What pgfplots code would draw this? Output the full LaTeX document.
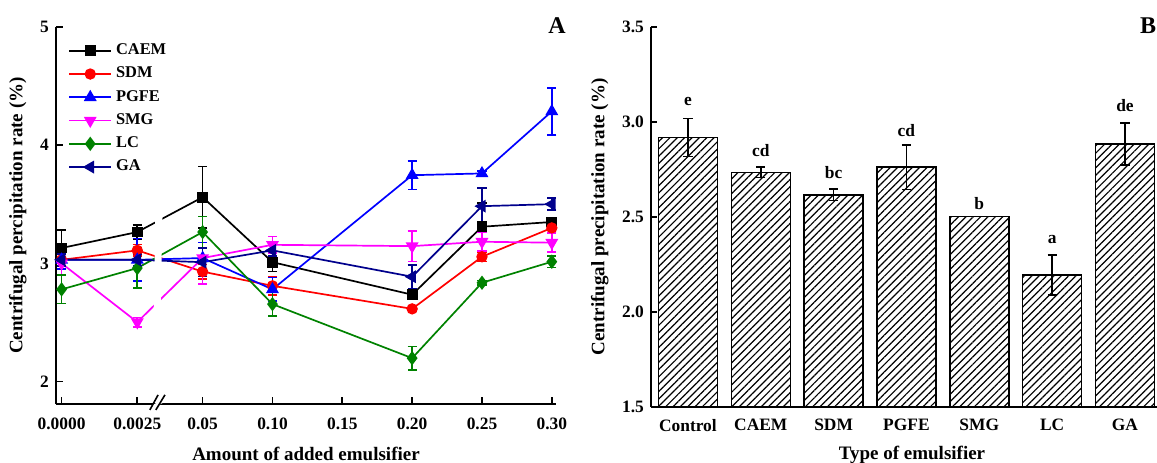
\documentclass[border=0pt]{standalone}
\usepackage{fontspec}
\setmainfont{Liberation Serif}
\usepackage{pgfplots}
\pgfplotsset{compat=1.18}
\usetikzlibrary{patterns.meta}
\definecolor{lcgreen}{RGB}{0,130,0}
\definecolor{ganavy}{RGB}{0,0,140}
\definecolor{smgmag}{RGB}{255,0,255}

\pgfplotstableread{
x y e
-0.051 3.13 0.15
0.0032 3.265 0.06
0.05 3.56 0.26
0.10 3.01 0.08
0.20 2.735 0.03
0.25 3.31 0.2
0.30 3.35 0.03
}\caem
\pgfplotstableread{
x y e
-0.051 3.03 0.08
0.0032 3.11 0.05
0.05 2.93 0.06
0.10 2.81 0.08
0.20 2.615 0.02
0.25 3.056 0.04
0.30 3.30 0.04
}\sdm
\pgfplotstableread{
x y e
-0.051 3.03 0.08
0.0032 3.03 0.18
0.05 3.045 0.13
0.10 2.78 0.1
0.20 3.746 0.12
0.25 3.761 0.02
0.30 4.286 0.2
}\pgfe
\pgfplotstableread{
x y e
-0.051 3.0 0.1
0.0032 2.503 0.04
0.05 3.045 0.22
0.10 3.157 0.07
0.20 3.146 0.13
0.25 3.183 0.08
0.30 3.175 0.08
}\smg
\pgfplotstableread{
x y e
-0.051 2.78 0.12
0.0032 2.96 0.17
0.05 3.265 0.13
0.10 2.655 0.1
0.20 2.198 0.1
0.25 2.836 0.02
0.30 3.014 0.05
}\lc
\pgfplotstableread{
x y e
-0.051 3.03 0.05
0.0032 3.03 0.05
0.05 3.01 0.12
0.10 3.11 0.05
0.20 2.887 0.1
0.25 3.484 0.155
0.30 3.501 0.05
}\ga
\pgfplotstableread{
x y e
0 2.918 0.10
1 2.735 0.027
2 2.617 0.03
3 2.762 0.117
4 2.502 0
5 2.195 0.105
6 2.884 0.11
}\bars
\pgfplotstableread{
x y l
0 3.086 e
1 2.819 cd
2 2.705 bc
3 2.923 cd
4 2.537 b
5 2.362 a
6 3.054 de
}\letters

\pgfplotsset{
  errstyle/.style={error bars/.cd, y dir=both, y explicit,
     error bar style={line width=0.8pt, solid},
     error mark options={rotate=90, line width=0.8pt, mark size=2.3pt}},
}

\begin{document}
\begin{tikzpicture}
\useasboundingbox (0,0) rectangle (578.5pt,231pt);
\begin{axis}[
  at={(28pt,29pt)}, anchor=south west,
  scale only axis, width=250pt, height=188.5pt,
  xmin=-0.055, xmax=0.303, ymin=1.81, ymax=5,
  axis x line=bottom, axis y line=left,
  axis line style={-, line width=0.85pt},
  tick align=inside, major tick length=3.5pt,
  tick style={black, line width=0.85pt},
  xtick={-0.051,0.0032,0.05,0.1,0.15,0.2,0.25,0.3},
  xticklabels={0.0000,0.0025,0.05,0.10,0.15,0.20,0.25,0.30},
  ytick={2,3,4,5}, yticklabels={2,3,4,5},
  ticklabel style={font=\bfseries\fontsize{8.7}{10}\selectfont},
  xticklabel style={yshift=-3.5pt},
  label style={font=\bfseries\fontsize{9.5}{11}\selectfont},
  xlabel={Amount of added emulsifier},
  xlabel style={yshift=-1.5pt},
  ylabel={Centrifugal percipitation rate (\%)},
  clip=false,
  legend style={at={(axis description cs:0.024,0.967)}, anchor=north west,
     draw=none, fill=none, font=\bfseries\fontsize{8.2}{9}\selectfont,
     row sep=0.7pt, cells={anchor=west}, inner sep=0pt},
  legend image code/.code={
     \draw[mark repeat=2,mark phase=2,#1] plot coordinates {(0pt,0pt) (10.5pt,0pt) (21pt,0pt)};},
  every axis plot/.append style={line width=0.85pt},
]
\addplot[black, mark=square*, mark size=2.3pt, errstyle] table[x=x,y=y,y error=e] {\caem};
\addlegendentry{CAEM}
\addplot[red, mark=*, mark size=2.4pt, errstyle] table[x=x,y=y,y error=e] {\sdm};
\addlegendentry{SDM}
\addplot[blue, mark=triangle*, mark size=2.9pt, errstyle] table[x=x,y=y,y error=e] {\pgfe};
\addlegendentry{PGFE}
\addplot[smgmag, mark=triangle*, mark size=2.9pt, mark options={rotate=180}, errstyle] table[x=x,y=y,y error=e] {\smg};
\addlegendentry{SMG}
\addplot[lcgreen, mark=diamond*, mark size=2.9pt, errstyle] table[x=x,y=y,y error=e] {\lc};
\addlegendentry{LC}
\addplot[ganavy, mark=triangle*, mark size=2.9pt, mark options={rotate=90}, errstyle] table[x=x,y=y,y error=e] {\ga};
\addlegendentry{GA}
\fill[white] (axis cs:0.0145,2.3) -- (axis cs:0.0195,2.3) -- (axis cs:0.0212,3.45) -- (axis cs:0.0162,3.45) -- cycle;
\fill[white] (axis cs:0.0122,1.79) -- (axis cs:0.0167,1.79) -- (axis cs:0.0232,1.83) -- (axis cs:0.0187,1.83) -- cycle;
\draw[line width=0.8pt] (axis cs:0.0122,1.76) -- (axis cs:0.0181,1.887);
\draw[line width=0.8pt] (axis cs:0.0165,1.76) -- (axis cs:0.0230,1.887);
\end{axis}
\node[font=\bfseries\fontsize{12}{14}\selectfont] at (278.5pt,218pt) {A};

\begin{axis}[
  at={(325.5pt,27.5pt)}, anchor=south west,
  scale only axis, width=253pt, height=190pt,
  xmin=-0.507, xmax=6.44, ymin=1.5, ymax=3.5,
  axis x line=bottom, axis y line=left,
  axis line style={-, line width=0.85pt},
  tick align=inside, major tick length=3pt,
  tick style={black, line width=0.85pt},
  xtick={0,1,2,3,4,5,6},
  xticklabels={Control,CAEM,SDM,PGFE,SMG,LC,GA},
  x tick style={draw=none},
  ytick={1.5,2,2.5,3,3.5}, yticklabels={1.5,2.0,2.5,3.0,3.5},
  ticklabel style={font=\bfseries\fontsize{8.7}{10}\selectfont},
  xticklabel style={yshift=-2.5pt},
  label style={font=\bfseries\fontsize{9.5}{11}\selectfont},
  xlabel={Type of emulsifier},
  xlabel style={yshift=-0.5pt, xshift=4pt},
  ylabel={Centrifugal precipitation rate (\%)},
  clip=false,
]
\addplot[ybar, bar width=0.81, draw=black, line width=0.75pt,
  pattern={Lines[angle=45,distance=2.6pt,line width=0.6pt]},
  error bars/.cd, y dir=both, y explicit,
     error bar style={line width=0.8pt, black},
     error mark options={rotate=90, line width=0.8pt, mark size=2.3pt, black}]
  table[x=x,y=y,y error=e] {\bars};
\addplot[only marks, mark=none, nodes near coords, point meta=explicit symbolic,
  every node near coord/.append style={anchor=base, inner sep=0pt, font=\bfseries\fontsize{8.7}{10}\selectfont}]
  table[x=x,y=y,meta=l] {\letters};
\end{axis}
\node[font=\bfseries\fontsize{12}{14}\selectfont] at (574pt,218pt) {B};
\end{tikzpicture}
\end{document}
